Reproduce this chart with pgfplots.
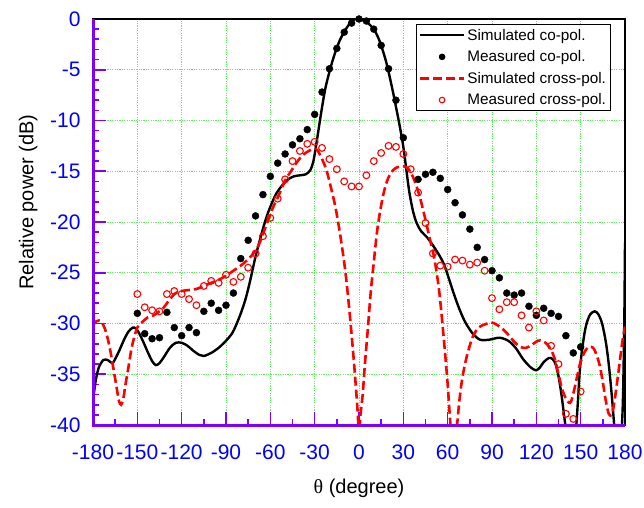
\documentclass[border=0pt]{standalone}
\usepackage{fontspec}
\setmainfont{Liberation Sans}
\newfontfamily\serifgr{Liberation Serif}
\usepackage{pgfplots}
\pgfplotsset{compat=1.18}
\definecolor{axpurple}{RGB}{128,0,255}
\definecolor{gridgreen}{RGB}{90,240,90}
\definecolor{tickblue}{RGB}{0,0,255}
\pgfplotsset{
  dotlegend/.style={legend image code/.code={\draw[##1, mark size=2.8pt] plot coordinates {(22pt,0pt)};}},
}

\begin{document}
\begin{tikzpicture}
\begin{axis}[
  name=ax,
  scale only axis, width=532pt, height=406pt,
  xmin=-180, xmax=180, ymin=-40, ymax=0,
  xtick={-180,-150,...,180}, ytick={-40,-35,...,0},
  minor x tick num=1, minor y tick num=4,
  tick pos=left, tick align=inside,
  major tick length=13pt, minor tick length=6pt,
  tick style={axpurple, line width=1.6pt},
  axis line style={black, line width=1.5pt},
  xmajorgrids, ymajorgrids,
  grid style={draw=gridgreen, line width=0.9pt, dash pattern=on 1.2pt off 1.2pt},
  /pgf/number format/assume math mode=true,
  tick label style={tickblue, font=\fontsize{21}{25}\selectfont},
  xticklabel style={yshift=-16pt},
  yticklabel style={xshift=-9pt},
  label style={font=\fontsize{20}{24}\selectfont},
  xlabel={{\serifgr θ} (degree)},
  ylabel={Relative power (dB)},
  xlabel style={at={(axis description cs:0.5,-0.155)}, anchor=center},
  ylabel style={at={(axis description cs:-0.122,0.549)}, anchor=center},
  legend cell align=left,
  legend style={at={(1,1)}, anchor=north east, xshift=-14pt, yshift=-5pt,
    draw=black, line width=1pt, fill=white,
    font=\fontsize{15.3}{18}\selectfont, row sep=5pt, inner sep=2.5pt},
  legend image code/.code={\draw[#1] (0pt,0pt) -- (44pt,0pt);},
]
% simulated co-pol
\addplot[black, line width=2.4pt, smooth, mark=none] coordinates {
(-180,-37.5)(-178,-35.5)(-176,-34.3)(-173,-33.6)(-170,-33.6)(-167,-33.9)
(-165,-33.5)(-162,-32.6)(-159,-31.6)(-156,-30.8)(-153,-30.4)(-151,-30.5)
(-149,-30.9)(-146,-31.8)(-143,-32.8)(-140,-33.7)(-137.5,-34.1)(-135,-33.9)
(-132,-33.3)(-128,-32.4)(-124,-31.9)(-120,-31.9)(-116,-32.2)(-112,-32.7)
(-108,-33.1)(-105,-33.2)(-100,-32.9)(-95,-32.4)(-90,-31.7)(-86,-31.0)
(-83,-30.1)(-80,-29.0)(-77,-27.7)(-74,-26.0)(-70,-23.4)(-66,-21.2)
(-63,-19.7)(-60,-18.5)(-56,-17.2)(-52,-16.4)(-48,-15.8)(-44,-15.5)
(-40,-15.4)(-36,-15.3)(-33,-14.9)(-31,-14.1)(-29.5,-12.9)(-28,-11.5)
(-26,-9.6)(-23,-7.0)(-20,-5.2)(-17,-3.7)(-13,-2.1)(-8,-0.8)(-4,-0.1)
(0,0)(5,-0.3)(10,-1.0)(14,-2.2)(18.5,-4.3)(23,-7.2)(27.5,-10.5)
(30,-12.6)(32,-14.8)(34,-17.0)(36.5,-18.9)(39,-20.1)(42,-20.9)(46,-21.5)
(50,-22.3)(54,-23.2)(57,-24.0)(60,-25.2)(64,-27.0)(68,-28.6)(72,-29.9)
(77,-31.0)(82,-31.6)(88,-31.6)(95,-31.4)(101,-31.7)(106,-32.4)(111,-33.5)
(116,-34.3)(119.5,-34.6)(122,-34.4)(125,-33.8)(128.5,-33.4)(131,-33.5)
(133,-34.0)(135,-35.2)(137,-37.0)(139,-39.3)(140.5,-41)(142,-43)
(144.5,-43)(146.5,-41)(148,-38)(149.5,-34.5)(152,-31.5)(154,-30.0)
(156.5,-29.1)(159.5,-28.8)(162,-29.1)(164.5,-30.0)(167,-31.8)(169,-34)
(171,-37)(173,-40.5)(175,-43)(177,-42)(178.5,-38)(179.5,-30)(180,-22)
};
\addlegendentry{Simulated co-pol.}
% measured co-pol
\addplot[only marks, mark=*, mark size=3.5pt, black, dotlegend] coordinates {
(-150,-29.0)(-145,-31.0)(-140,-31.5)(-135,-31.4)(-130,-28.9)(-125,-30.4)
(-120,-31.2)(-115,-30.4)(-110,-30.9)(-105,-28.8)(-100,-28.0)(-95,-28.7)
(-90,-28.2)(-85,-27.0)(-80,-23.6)(-75,-21.8)(-70,-19.4)(-65,-17.3)
(-60,-15.5)(-55,-14.2)(-50,-13.3)(-45,-12.4)(-40,-11.8)(-35,-10.9)
(-30,-9.4)(-25,-7.2)(-20,-4.9)(-15,-2.9)(-10,-1.3)(-5,-0.4)(0,0)
(5,-0.2)(10,-1.0)(15,-2.6)(20,-4.9)(25,-8.0)(30,-11.7)(40,-15.8)
(45,-15.3)(50,-15.1)(55,-15.7)(60,-16.8)(65,-18.1)(70,-19.3)(75,-20.7)
(80,-22.5)(85,-23.7)(90,-24.8)(95,-25.5)(100,-27.0)(105,-27.2)(110,-27.0)
(115,-28.3)(120,-29.2)(125,-28.5)(130,-29.0)(135,-29.3)(140,-31.2)
(145,-32.9)(150,-32.3)
};
\addlegendentry{Measured co-pol.}
% simulated cross-pol
\addplot[red, line width=2.6pt, dash pattern=on 9pt off 4pt, smooth, mark=none] coordinates {
(-180,-30.2)(-178,-29.8)(-176,-29.7)(-174,-29.9)(-172,-30.5)(-170,-31.5)
(-168,-32.9)(-166,-34.6)(-164,-36.3)(-162.5,-37.6)(-161,-38.0)(-159.5,-37.4)
(-158,-36.0)(-156,-34.3)(-154,-32.5)(-152,-31.3)(-150,-30.4)(-147,-29.9)
(-143,-29.4)(-139,-29.2)(-136,-28.9)(-132,-28.4)(-128,-27.6)(-124,-27.0)
(-120,-26.8)(-115,-26.7)(-110,-26.6)(-105,-26.3)(-100,-26.0)(-95,-25.7)
(-90,-25.3)(-85,-24.8)(-80,-24.3)(-76,-23.8)(-72,-23.2)(-69,-22.6)
(-66,-21.6)(-62,-20.0)(-58,-18.5)(-55,-17.6)(-50,-15.9)(-46,-15.0)
(-42,-14.1)(-38,-13.4)(-34,-13.0)(-31,-12.8)(-29,-12.8)(-27,-13.2)
(-25,-13.8)(-22,-14.9)(-19,-16.6)(-16,-18.5)(-13,-21.0)(-10,-24.0)
(-8,-26.5)(-6,-29.5)(-4,-32.8)(-2.5,-35.5)(-1,-38.5)(0,-41)(1,-39)
(2.5,-37)(4,-34)(6,-30.5)(8,-26.8)(10,-24.0)(12,-21.2)(14,-19.2)
(16,-17.6)(18,-16.4)(20,-15.6)(23,-14.9)(26,-14.6)(30,-14.5)(33,-14.7)
(36,-15.4)(39,-16.5)(42,-18.0)(45,-19.8)(48,-21.7)(51,-23.6)(54,-26.5)
(56,-29.3)(58,-32.5)(60,-36.0)(61.5,-39.2)(63,-42)(65,-42)(66.5,-39.8)
(68,-37.5)(70,-35.3)(73,-33.2)(77,-31.3)(81,-30.4)(85,-30.1)(89.5,-29.9)
(93,-30.1)(97,-30.5)(101,-31.1)(105,-31.8)(109,-32.3)(113,-32.4)
(117,-32.1)(121,-31.7)(124,-31.7)(127,-32.0)(130,-32.6)(132.5,-33.5)
(135,-35.0)(137.5,-36.5)(140,-37.4)(142,-37.8)(143.5,-37.7)(145.5,-36.6)
(147.5,-35.3)(149.5,-34.0)(152,-33.0)(154.5,-32.4)(157,-32.3)(159,-32.5)
(161,-33.2)(163,-34.2)(165,-35.8)(167,-37.6)(169,-38.9)(171,-39.0)
(172.5,-38.0)(174,-36.5)(176,-34.3)(178,-32.0)(180,-30.3)
};
\addlegendentry{Simulated cross-pol.}
% measured cross-pol
\addplot[only marks, mark=o, mark size=3.4pt, red, line width=1.1pt,
  mark options={fill=white}, dotlegend] coordinates {
(-150,-27.1)(-145,-28.4)(-140,-28.7)(-135,-28.8)(-130,-27.1)(-125,-26.8)
(-120,-27.1)(-115,-27.6)(-110,-28.2)(-105,-26.3)(-100,-25.8)(-95,-26.0)
(-90,-25.2)(-85,-25.9)(-80,-25.4)(-75,-24.5)(-70,-23.1)(-65,-21.4)
(-60,-19.6)(-55,-17.7)(-50,-15.8)(-45,-14.0)(-40,-13.0)(-35,-12.3)
(-30,-12.1)(-25,-12.7)(-20,-13.8)(-15,-14.8)(-10,-16.0)(-5,-16.5)
(0,-16.5)(5,-15.4)(10,-14.0)(15,-13.2)(20,-12.5)(25,-12.6)(30,-13.3)
(35,-14.8)(40,-17.1)(45,-20.1)(50,-23.1)(55,-24.3)(60,-24.4)(65,-23.7)
(70,-23.8)(75,-24.2)(80,-24.0)(85,-24.8)(90,-27.5)(95,-28.6)(100,-27.9)
(105,-27.9)(110,-29.2)(115,-30.4)(120,-28.8)(125,-29.7)(130,-32.2)
(135,-34.0)(140,-38.9)(145,-39.4)(150,-36.7)
};
\addlegendentry{Measured cross-pol.}
\end{axis}
\draw[axpurple, line width=3pt] (ax.north west) -- (ax.south west) -- (ax.south east);
\pgfresetboundingbox
\path ([shift={(-93pt,-82pt)}]ax.south west) rectangle ([shift={(19pt,19pt)}]ax.north east);
\end{tikzpicture}
\end{document}
